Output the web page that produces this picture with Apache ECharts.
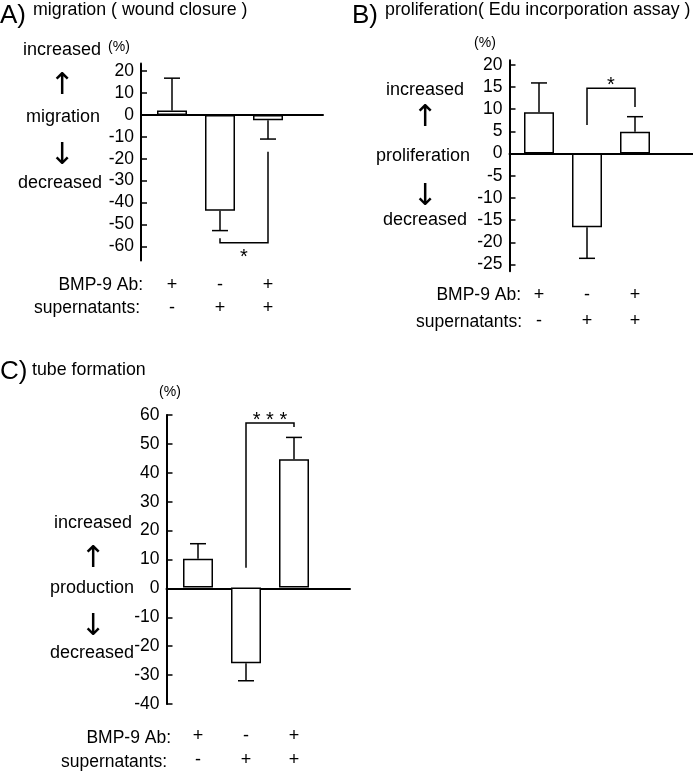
<!DOCTYPE html>
<html><head><meta charset="utf-8">
<script src="https://cdn.jsdelivr.net/npm/echarts@6/dist/echarts.min.js"></script>
<style>html,body{margin:0;padding:0;background:#fff}#c{width:693px;height:772px}</style>
</head><body><div id="c"></div>
<script>
// ---- data ----
const bmpAb = ['+', '-', '+'];
const supernatants = ['-', '+', '+'];

const migration = [2.0, -43.7, -2.4];
const migrationErr = [14.8, 9.1, 8.6];
const migrationTicks = [20, 10, 0, -10, -20, -30, -40, -50, -60];
const migrationBracket = [[1, 2, -56.3, -58.3, -16.8]];

const proliferation = [9.3, -16.6, 4.9];
const proliferationErr = [6.6, 7.0, 3.4];
const proliferationTicks = [20, 15, 10, 5, 0, -5, -10, -15, -20, -25];
const proliferationBracket = [[1, 2, 6.4, 14.7, 10.5]];

const tube = [10.0, -26.4, 44.6];
const tubeErr = [5.2, 6.1, 7.6];
const tubeTicks = [60, 50, 40, 30, 20, 10, 0, -10, -20, -30, -40];
const tubeBracket = [[1, 2, 6.8, 57.2, 55.8]];

// ---- build ----
const FONT = '"Liberation Sans", Arial, sans-serif';
const categories = bmpAb.map((b, i) => b + '\n' + supernatants[i]);
const grids = [], xAxes = [], yAxes = [], series = [], graphics = [];

function errRender(params, api) {
  const i = api.value(0), v = api.value(1), e = api.value(2);
  const end = v + (v >= 0 ? e : -e);
  const p0 = api.coord([i, v]), p1 = api.coord([i, end]);
  const cap = 8;
  return {type: 'group', children: [
    {type: 'line', shape: {x1: p0[0], y1: p0[1], x2: p1[0], y2: p1[1]}, style: {stroke: '#000', lineWidth: 1.5}},
    {type: 'line', shape: {x1: p1[0] - cap, y1: p1[1], x2: p1[0] + cap, y2: p1[1]}, style: {stroke: '#000', lineWidth: 1.5}}
  ]};
}
function bracketRender(star) {
  return function (params, api) {
    const a = api.value(0), b = api.value(1), yl = api.value(2), ym = api.value(3), yr = api.value(4);
    const p1 = api.coord([a, yl]), p2 = api.coord([a, ym]), p3 = api.coord([b, ym]), p4 = api.coord([b, yr]);
    const below = ym < yl;
    return {type: 'group', children: [
      {type: 'polyline', shape: {points: [p1, p2, p3, p4]}, style: {stroke: '#000', lineWidth: 1.5, fill: null}},
      {type: 'text', style: {text: star, x: (p2[0] + p3[0]) / 2, y: p2[1] + (below ? 15 : -3),
        textAlign: 'center', textVerticalAlign: 'middle', font: '20px ' + FONT, fill: '#000'}}
    ]};
  };
}

function panel(p) {
  const g = grids.length;
  grids.push({left: p.axisX, top: p.top, width: p.lineW, height: p.height});
  grids.push({left: p.barLeft, top: p.top, width: 144, height: p.height});
  xAxes.push({gridIndex: g, type: 'value', min: 0, max: 1,
    axisLine: {show: true, onZero: true, lineStyle: {color: '#000', width: 2}},
    axisTick: {show: false}, axisLabel: {show: false}, splitLine: {show: false}});
  yAxes.push({gridIndex: g, type: 'value', min: p.min, max: p.max,
    axisLine: {show: true, lineStyle: {color: '#000', width: 2}},
    axisTick: {show: true, inside: true, length: 6, customValues: p.ticks, lineStyle: {color: '#000', width: 1.5}},
    axisLabel: {show: true, customValues: p.ticks, margin: 7, color: '#000', fontSize: 17.5, fontFamily: FONT},
    splitLine: {show: false}});
  xAxes.push({gridIndex: g + 1, type: 'category', data: categories,
    axisLine: {show: false, onZero: false}, axisTick: {show: false},
    axisLabel: {interval: 0, margin: p.labelMargin, lineHeight: p.lh, fontSize: 18, color: '#000', fontFamily: FONT},
    splitLine: {show: false}});
  yAxes.push({gridIndex: g + 1, type: 'value', min: p.min, max: p.max, show: false});
  series.push({type: 'bar', xAxisIndex: g + 1, yAxisIndex: g + 1, data: p.values, barWidth: 30,
    itemStyle: {color: '#fff', borderColor: '#000', borderWidth: 1.5}, silent: true});
  series.push({type: 'custom', xAxisIndex: g + 1, yAxisIndex: g + 1,
    data: p.values.map((v, i) => [i, v, p.err[i]]), renderItem: errRender, silent: true});
  series.push({type: 'custom', xAxisIndex: g + 1, yAxisIndex: g + 1,
    data: p.bracket, renderItem: bracketRender(p.star), silent: true});
}

panel({axisX: 141, top: 63.5, lineW: 182, height: 197.1, barLeft: 148, min: -66.5, max: 23.5,
  ticks: migrationTicks, values: migration, err: migrationErr, bracket: migrationBracket, star: '*',
  labelMargin: 12.9, lh: 23});
panel({axisX: 509.5, top: 60.3, lineW: 184, height: 210.9, barLeft: 515, min: -26.5, max: 21,
  ticks: proliferationTicks, values: proliferation, err: proliferationErr, bracket: proliferationBracket, star: '*',
  labelMargin: 10.8, lh: 26});
panel({axisX: 166.5, top: 415, lineW: 183.5, height: 289, barLeft: 174, min: -40, max: 60,
  ticks: tubeTicks, values: tube, err: tubeErr, bracket: tubeBracket, star: '* * *',
  labelMargin: 21.7, lh: 24});

function txt(text, x, y, size, align, fam) {
  graphics.push({type: 'text', style: {text: text, x: x, y: y, textAlign: align || 'center',
    textVerticalAlign: 'middle', font: size + 'px ' + (fam || FONT), fill: '#000'}});
}
// titles
txt('A)', 0, 16, 26, 'left');
txt('migration ( wound closure )', 33, 10, 17.8, 'left');
txt('B)', 352, 16, 26, 'left');
txt('proliferation( Edu incorporation assay )', 385, 10, 17.8, 'left');
txt('C)', 0, 372, 26, 'left');
txt('tube formation', 32, 370, 17.8, 'left');
// units
txt('(%)', 119, 47, 14);
txt('(%)', 485, 43, 14);
txt('(%)', 170, 392, 14);
// side labels
const ARW = '"DejaVu Sans", sans-serif';
const AS = 30;
txt('increased', 62, 50, 18); txt('\u2191', 62, 86, AS, 'center', ARW); txt('migration', 63, 117, 18);
txt('\u2193', 62, 156, AS, 'center', ARW); txt('decreased', 60, 183, 18);
txt('increased', 425, 90, 18); txt('\u2191', 425, 118, AS, 'center', ARW); txt('proliferation', 423, 156, 18);
txt('\u2193', 425, 197, AS, 'center', ARW); txt('decreased', 425, 220, 18);
txt('increased', 93, 523, 18); txt('\u2191', 93, 559, AS, 'center', ARW); txt('production', 92, 588, 18);
txt('\u2193', 93, 627, AS, 'center', ARW); txt('decreased', 92, 653, 18);
// row labels
txt('BMP-9 Ab:', 143, 285, 17.5, 'right'); txt('supernatants:', 140, 308, 17.5, 'right');
txt('BMP-9 Ab:', 521, 295, 17.5, 'right'); txt('supernatants:', 522, 322, 17.5, 'right');
txt('BMP-9 Ab:', 171, 738, 17.5, 'right'); txt('supernatants:', 167, 762, 17.5, 'right');

const chart = echarts.init(document.getElementById('c'));
chart.setOption({animation: false, backgroundColor: '#fff', grid: grids, xAxis: xAxes, yAxis: yAxes,
  series: series, graphic: graphics});
</script></body></html>
